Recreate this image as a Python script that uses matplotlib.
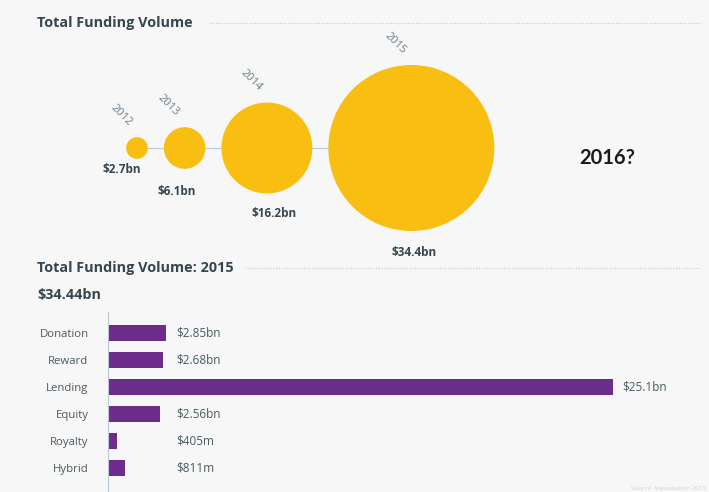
import matplotlib
matplotlib.use("Agg")
import matplotlib.pyplot as plt
from matplotlib.patches import Circle

# ---- data ----
years = ["2012", "2013", "2014", "2015"]
volumes = [2.7, 6.1, 16.2, 34.4]            # $bn
volume_labels = ["$2.7bn", "$6.1bn", "$16.2bn", "$34.4bn"]

categories = ["Donation", "Reward", "Lending", "Equity", "Royalty", "Hybrid"]
values_2015 = [2.85, 2.68, 25.1, 2.56, 0.405, 0.811]   # $bn
value_labels = ["$2.85bn", "$2.68bn", "$25.1bn", "$2.56bn", "$405m", "$811m"]
total_2015 = "$34.44bn"

# ---- style ----
BG = "#f7f7f7"
YELLOW = "#f8bf12"
PURPLE = "#6c2c8c"
DARK = "#36464e"
LABEL = "#4a5a62"
LINE = "#b8cad6"
FONT = "Open Sans"
# label offsets (pixels) relative to each bubble: (dx from centre, dy below bubble)
value_label_offsets = [(-15, 11), (-8, 23), (7, 20), (3, 21)]

W, H = 709, 492
fig = plt.figure(figsize=(W / 100, H / 100), dpi=100, facecolor=BG)

# ---- top: bubble chart (pixel-like coordinate axes) ----
ax = fig.add_axes([0, 0, 1, 1], facecolor="none")
ax.set_xlim(0, W)
ax.set_ylim(H, 0)
ax.axis("off")

ax.text(37, 23, "Total Funding Volume", fontsize=10.4, fontweight="bold",
        color=DARK, family=FONT, va="center", ha="left")
ax.plot([210, 700], [23, 23], color=LINE, lw=0.8, ls=(0, (1, 1.5)))

scale = 83 / max(volumes) ** 0.8
radii = [scale * v ** 0.8 for v in volumes]
gap = 16
cy = 148
centers = []
x = 137
for i, r in enumerate(radii):
    if i > 0:
        x = centers[-1] + radii[i - 1] + gap + r
    centers.append(x)

ax.plot([centers[0], centers[-1]], [cy, cy], color=LINE, lw=0.8, zorder=1)
for cx, r, yr, lab, (ldx, ldy) in zip(centers, radii, years, volume_labels,
                                       value_label_offsets):
    ax.add_patch(Circle((cx, cy), r, facecolor=YELLOW, edgecolor="none", zorder=2))
    ax.text(cx - 16, cy - r - 22, yr, rotation=-45, fontsize=8, color="#6c7f8a",
            family=FONT, ha="center", va="center", rotation_mode="anchor")
    ax.text(cx + ldx, cy + r + ldy, lab, fontsize=8.5, fontweight="bold", color=DARK,
            family=FONT, ha="center", va="center")

ax.text(607, 158, "2016?", fontsize=14.5, fontweight="bold", color="#1a1a1a",
        family="Lato", ha="center", va="center")

# ---- bottom: bar chart ----
ax.text(37, 268, "Total Funding Volume: 2015", fontsize=10.4, fontweight="bold",
        color=DARK, family=FONT, va="center", ha="left")
ax.plot([245, 700], [268, 268], color=LINE, lw=0.8, ls=(0, (1, 1.5)))
ax.text(37, 295, total_2015, fontsize=10.4, fontweight="bold",
        color=DARK, family=FONT, va="center", ha="left")

px_per_bn = (613 - 109) / max(values_2015)
left_px, top_px, bottom_px = 108, 312, 492
xmax = (W - left_px) / px_per_bn
bx = fig.add_axes([left_px / W, 0, (W - left_px) / W, (bottom_px - top_px) / H],
                  facecolor="none")
pos = list(range(len(categories)))
bx.barh(pos, values_2015, height=0.6, color=PURPLE, left=0.05)
bx.set_xlim(0, xmax)
bx.set_ylim(5.89, -0.78)
for s in ["top", "right", "bottom"]:
    bx.spines[s].set_visible(False)
bx.spines["left"].set_color(LINE)
bx.spines["left"].set_linewidth(0.8)
bx.set_xticks([])
bx.set_yticks(pos)
bx.set_yticklabels(categories, fontsize=8.2, color=LABEL, family=FONT)
bx.tick_params(axis="y", length=0, pad=14)
label_min = max(values_2015[:2] + values_2015[3:])
for p, v, lab in zip(pos, values_2015, value_labels):
    xl = max(v, label_min)
    bx.annotate(lab, (xl + 0.05, p), xytext=(7, 0), textcoords="offset points",
                fontsize=8.5, color=LABEL, family=FONT, va="center", ha="left")

fig.text(0.995, 0.003, "Source: Massolution 2015", fontsize=4.5, color="#c9d3d8",
         family=FONT, ha="right", va="bottom")

fig.savefig("out.png", dpi=100, facecolor=BG)
